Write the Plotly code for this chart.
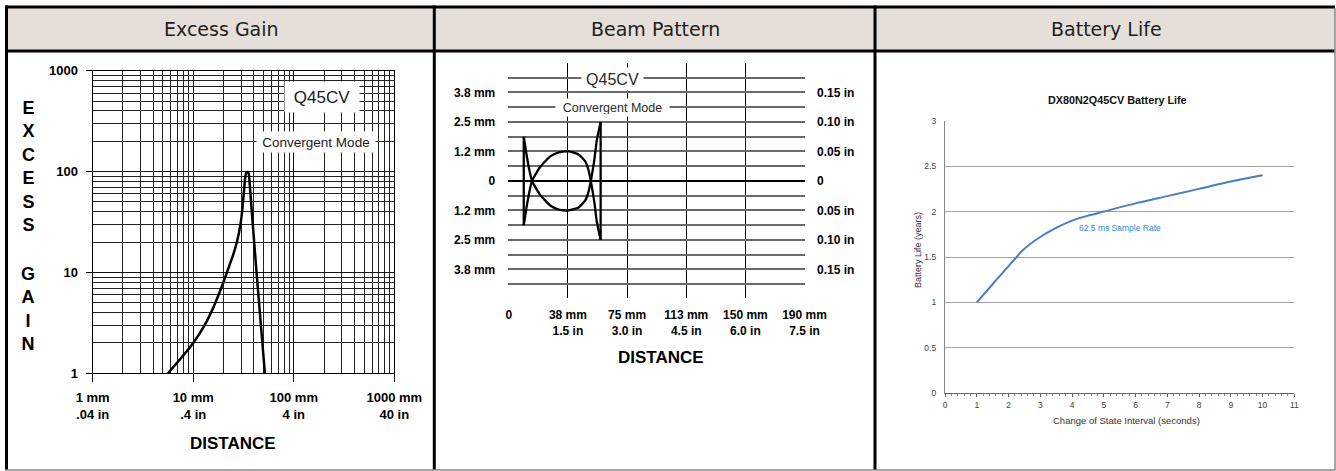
import plotly.graph_objects as go

W, H = 1336, 471


def X(px):
    return px / W


def Y(py):
    return 1 - py / H


# ---------------- data ----------------
# Excess gain (distance in mm, gain)
gain_dist_mm = [5.6, 7.5, 10, 13, 16, 19, 22, 25, 27.5, 29.5, 31, 32.2, 33, 33.8, 35, 35.7, 36.3, 38.1, 42.7, 51.6]
gain_values = [1, 1.4, 2.0, 3.0, 4.6, 7.0, 10.5, 15, 21, 30, 45, 70, 90, 98, 98.5, 95, 80, 42, 9.8, 1]
gain_x_ticks = [1, 10, 100, 1000]
gain_x_labels = ["1 mm<br>.04 in", "10 mm<br>.4 in", "100 mm<br>4 in", "1000 mm<br>40 in"]
gain_y_ticks = [1, 10, 100, 1000]
gain_y_labels = ["1", "10", "100", "1000"]

# Beam pattern (distance in inches, beam half-width in inches)
beam_x_in = [0.38, 0.46, 0.53, 0.59, 0.67, 0.80, 1.06, 1.27, 1.52, 1.77, 1.94, 2.02, 2.08, 2.17, 2.23, 2.33]
beam_curve_a = [0.075, 0.041, 0.016, 0.0, -0.010, -0.024, -0.042, -0.0485, -0.050, -0.045, -0.033, -0.019, 0.0, 0.036, 0.068, 0.100]
beam_curve_b = [-0.075, -0.041, -0.016, 0.0, 0.010, 0.024, 0.042, 0.0485, 0.050, 0.045, 0.033, 0.019, 0.0, -0.036, -0.068, -0.100]
beam_x_ticks = [0, 1.5, 3.0, 4.5, 6.0, 7.5]
beam_x_labels = ["0", "38 mm<br>1.5 in", "75 mm<br>3.0 in", "113 mm<br>4.5 in", "150 mm<br>6.0 in", "190 mm<br>7.5 in"]
beam_y_grid = [-0.175, -0.15, -0.125, -0.1, -0.075, -0.05, -0.025, 0, 0.025, 0.05, 0.075, 0.1, 0.125, 0.15, 0.175]
beam_y_labels_mm = ["", "3.8 mm", "", "2.5 mm", "", "1.2 mm", "", "0", "", "1.2 mm", "", "2.5 mm", "", "3.8 mm", ""]
beam_y_labels_in = ["", "0.15 in", "", "0.10 in", "", "0.05 in", "", "0", "", "0.05 in", "", "0.10 in", "", "0.15 in", ""]

# Battery life
batt_interval_s = [1, 1.5, 2, 2.5, 3, 3.5, 4, 4.5, 5, 6, 7, 8, 9, 10]
batt_life_years = [1.0, 1.2, 1.40, 1.59, 1.72, 1.82, 1.9, 1.955, 2.0, 2.09, 2.17, 2.25, 2.33, 2.40]

# minor grid values for log axes
minor_vals = [m * 10 ** k for k in range(0, 3) for m in range(2, 10)]

BOLD = "Liberation Sans, Arial, sans-serif"

fig = go.Figure()

# Excess gain curve
fig.add_trace(go.Scatter(x=gain_dist_mm, y=gain_values, mode="lines", xaxis="x", yaxis="y",
                         line=dict(color="black", width=2.5, shape="spline", smoothing=0.4),
                         showlegend=False, hoverinfo="skip"))

# Beam pattern curves
fig.add_trace(go.Scatter(x=beam_x_in, y=beam_curve_a, mode="lines", xaxis="x2", yaxis="y2",
                         line=dict(color="black", width=2.3, shape="spline", smoothing=0.5),
                         showlegend=False, hoverinfo="skip"))
fig.add_trace(go.Scatter(x=beam_x_in, y=beam_curve_b, mode="lines", xaxis="x2", yaxis="y2",
                         line=dict(color="black", width=2.3, shape="spline", smoothing=0.5),
                         showlegend=False, hoverinfo="skip"))
fig.add_trace(go.Scatter(x=[beam_x_in[0], beam_x_in[0]], y=[beam_curve_a[0], beam_curve_b[0]],
                         mode="lines", xaxis="x2", yaxis="y2",
                         line=dict(color="black", width=2.3), showlegend=False, hoverinfo="skip"))
fig.add_trace(go.Scatter(x=[beam_x_in[-1], beam_x_in[-1]], y=[beam_curve_a[-1], beam_curve_b[-1]],
                         mode="lines", xaxis="x2", yaxis="y2",
                         line=dict(color="black", width=2.3), showlegend=False, hoverinfo="skip"))
# invisible trace for the right-hand axis
fig.add_trace(go.Scatter(x=[0], y=[0], mode="markers", xaxis="x2", yaxis="y3",
                         marker=dict(opacity=0), showlegend=False, hoverinfo="skip"))

# Battery life curve
fig.add_trace(go.Scatter(x=batt_interval_s, y=batt_life_years, mode="lines", xaxis="x4", yaxis="y4",
                         line=dict(color="#4a7ebf", width=2, shape="spline", smoothing=0.8),
                         showlegend=False, hoverinfo="skip"))

tick_bold13 = dict(family=BOLD, size=13, color="black", weight="bold")
tick_bold12 = dict(family=BOLD, size=12, color="black", weight="bold")

fig.update_layout(
    width=W, height=H, autosize=False,
    margin=dict(l=0, r=0, t=0, b=0, pad=0, autoexpand=False),
    paper_bgcolor="white", plot_bgcolor="white",
    showlegend=False,
    # ---- Excess gain ----
    xaxis=dict(type="log", domain=[X(92.7), X(394.3)], range=[0, 3], anchor="y", automargin=False,
               tickvals=gain_x_ticks, ticktext=gain_x_labels, tickfont=tick_bold13,
               ticks="outside", ticklen=8, tickcolor="black", tickwidth=1.2,
               ticklabelstandoff=4,
               showgrid=True, gridcolor="#111", gridwidth=1.2,
               minor=dict(tickvals=minor_vals, showgrid=True, gridcolor="#222", gridwidth=1, ticks=""),
               showline=True, linecolor="black", linewidth=1.2, mirror=True, zeroline=False),
    yaxis=dict(type="log", domain=[Y(373.3), Y(70.7)], range=[0, 3], anchor="x", automargin=False,
               tickvals=gain_y_ticks, ticktext=gain_y_labels, tickfont=tick_bold13,
               ticks="outside", ticklen=6, tickcolor="black", tickwidth=1.2,
               ticklabelstandoff=5,
               showgrid=True, gridcolor="#111", gridwidth=1.2,
               minor=dict(tickvals=minor_vals, showgrid=True, gridcolor="#222", gridwidth=1, ticks=""),
               showline=True, linecolor="black", linewidth=1.2, mirror=True, zeroline=False),
    # ---- Beam pattern ----
    xaxis2=dict(domain=[X(508.3), X(805)], range=[-0.012, 7.512], anchor="y2", automargin=False,
                tickvals=beam_x_ticks, ticktext=beam_x_labels, tickfont=tick_bold12,
                ticks="", ticklabelstandoff=8,
                showgrid=True, gridcolor="black", gridwidth=1.2, zeroline=False, showline=False),
    yaxis2=dict(domain=[Y(298.3), Y(63.3)], range=[-0.199, 0.1995], anchor="x2", automargin=False,
                tickvals=beam_y_grid, ticktext=beam_y_labels_mm, tickfont=tick_bold12,
                ticks="", ticklabelstandoff=12,
                showgrid=True, gridcolor="#6a6a6a", gridwidth=1.6,
                zeroline=True, zerolinecolor="black", zerolinewidth=2, showline=False),
    yaxis3=dict(domain=[Y(298.3), Y(63.3)], range=[-0.199, 0.1995], anchor="x2", automargin=False,
                overlaying="y2", side="right",
                tickvals=beam_y_grid, ticktext=beam_y_labels_in, tickfont=tick_bold12,
                ticks="", ticklabelstandoff=11,
                showgrid=False, zeroline=False, showline=False),
    # ---- Battery life ----
    xaxis4=dict(domain=[X(945), X(1294.3)], range=[0, 11], anchor="y4", automargin=False,
                dtick=1, tick0=0, tickfont=dict(family=BOLD, size=8.5, color="#444"),
                ticks="outside", ticklen=3, tickcolor="#666",
                minor=dict(dtick=0.2, ticks="outside", ticklen=2, tickcolor="#888"),
                showgrid=False, zeroline=False,
                showline=True, linecolor="#666", linewidth=1.2),
    yaxis4=dict(domain=[Y(393.3), Y(120.7)], range=[0, 3], anchor="x4", automargin=False,
                dtick=0.5, tick0=0, tickfont=dict(family=BOLD, size=8.5, color="#444"),
                ticks="", ticklabelstandoff=6,
                showgrid=True, gridcolor="#a3a3a3", gridwidth=1.3, zeroline=False,
                showline=True, linecolor="#888", linewidth=1.2),
)

# ---------------- frame / headers ----------------
shapes = []
shapes.append(dict(type="rect", xref="paper", yref="paper", x0=X(7), x1=X(1335), y0=Y(51), y1=Y(7),
                   fillcolor="#e6dfd9", line=dict(width=0), layer="below"))
black = dict(color="black", width=3)
shapes.append(dict(type="line", xref="paper", yref="paper", x0=X(5.5), x1=X(1335), y0=Y(7), y1=Y(7), line=black))
shapes.append(dict(type="line", xref="paper", yref="paper", x0=X(5.5), x1=X(1335), y0=Y(51), y1=Y(51), line=black))
shapes.append(dict(type="line", xref="paper", yref="paper", x0=X(6.5), x1=X(6.5), y0=Y(470), y1=Y(5.5), line=black))
shapes.append(dict(type="line", xref="paper", yref="paper", x0=X(434.3), x1=X(434.3), y0=Y(470), y1=Y(5.5), line=black))
shapes.append(dict(type="line", xref="paper", yref="paper", x0=X(875), x1=X(875), y0=Y(470), y1=Y(5.5), line=black))
gray = dict(color="#8a8a8a", width=1.5)
shapes.append(dict(type="line", xref="paper", yref="paper", x0=X(1335), x1=X(1335), y0=Y(470), y1=Y(8), line=gray))
shapes.append(dict(type="line", xref="paper", yref="paper", x0=X(5), x1=X(1335.5), y0=Y(470), y1=Y(470), line=gray))
fig.update_layout(shapes=shapes)

ann = []
hdr_font = dict(family="DejaVu Sans, sans-serif", size=19, color="#1e1e1e")
for txt, cx in [("Excess Gain", 221), ("Beam Pattern", 655), ("Battery Life", 1106)]:
    ann.append(dict(text=txt, x=X(cx), y=Y(29), xref="paper", yref="paper", showarrow=False,
                    xanchor="center", yanchor="middle", font=hdr_font))

# Excess gain labels
ann.append(dict(text="E<br>X<br>C<br>E<br>S<br>S", x=X(28), y=Y(167), xref="paper", yref="paper",
                showarrow=False, xanchor="center", yanchor="middle",
                font=dict(family=BOLD, size=18, color="black", weight="bold")))
ann.append(dict(text="G<br>A<br>I<br>N", x=X(28), y=Y(308.5), xref="paper", yref="paper",
                showarrow=False, xanchor="center", yanchor="middle",
                font=dict(family=BOLD, size=18, color="black", weight="bold")))
ann.append(dict(text="DISTANCE", x=X(233), y=Y(443), xref="paper", yref="paper", showarrow=False,
                xanchor="center", yanchor="middle",
                font=dict(family=BOLD, size=17, color="black", weight="bold")))
ann.append(dict(text="Q45CV", x=X(321.5), y=Y(96.5), xref="paper", yref="paper", showarrow=False,
                xanchor="center", yanchor="middle", bgcolor="white", width=70, height=26, borderpad=2,
                font=dict(family=BOLD, size=17, color="#1a1a1a")))
ann.append(dict(text="Convergent Mode", x=X(316), y=Y(142), xref="paper", yref="paper", showarrow=False,
                xanchor="center", yanchor="middle", bgcolor="white", width=114, height=16, borderpad=2,
                font=dict(family=BOLD, size=13.5, color="#1a1a1a")))

# Beam pattern labels
ann.append(dict(text="DISTANCE", x=X(661), y=Y(357.5), xref="paper", yref="paper", showarrow=False,
                xanchor="center", yanchor="middle",
                font=dict(family=BOLD, size=17, color="black", weight="bold")))
ann.append(dict(text="Q45CV", x=X(612), y=Y(79), xref="paper", yref="paper", showarrow=False,
                xanchor="center", yanchor="middle", bgcolor="white", width=57, height=18, borderpad=2,
                font=dict(family=BOLD, size=16, color="#2a2a2a")))
ann.append(dict(text="Convergent Mode", x=X(612.5), y=Y(108), xref="paper", yref="paper", showarrow=False,
                xanchor="center", yanchor="middle", bgcolor="white", width=109, height=13, borderpad=2,
                font=dict(family=BOLD, size=12.5, color="#2a2a2a")))

# Battery labels
ann.append(dict(text="<b>DX80N2Q45CV Battery Life</b>", x=X(1117), y=Y(99.5), xref="paper", yref="paper",
                showarrow=False, xanchor="center", yanchor="middle",
                font=dict(family=BOLD, size=10.8, color="#111")))
ann.append(dict(text="62.5 ms Sample Rate", x=X(1120), y=Y(228), xref="paper", yref="paper",
                showarrow=False, xanchor="center", yanchor="middle",
                font=dict(family=BOLD, size=8.5, color="#3a86d4")))
ann.append(dict(text="Battery Life (years)", x=X(918), y=Y(250), xref="paper", yref="paper",
                showarrow=False, xanchor="center", yanchor="middle", textangle=-90,
                font=dict(family=BOLD, size=9, color="#333")))
ann.append(dict(text="Change of State Interval (seconds)", x=X(1126), y=Y(420), xref="paper", yref="paper",
                showarrow=False, xanchor="center", yanchor="middle",
                font=dict(family=BOLD, size=9.5, color="#333")))
fig.update_layout(annotations=ann)

fig.write_html("out.html", config={"displayModeBar": False},
               post_script="document.body.style.margin='0';document.body.style.overflow='hidden';")
